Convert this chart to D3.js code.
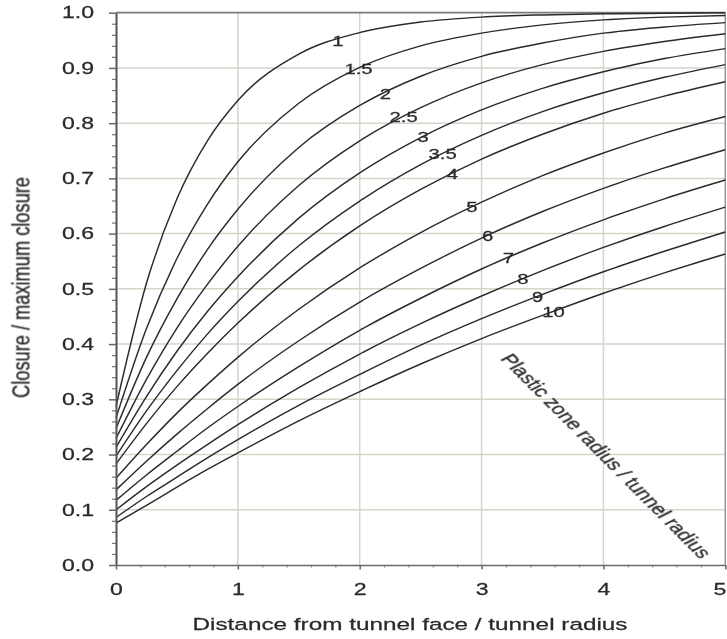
<!DOCTYPE html>
<html>
<head>
<meta charset="utf-8">
<script src="https://cdn.jsdelivr.net/npm/d3@7"></script>
<style>
  html, body { margin: 0; padding: 0; background: #fff; }
  svg { display: block; }
  text { font-family: "Liberation Sans", Arial, sans-serif; fill: #2a2a2a; stroke: #2a2a2a; stroke-width: 0.25px; }
</style>
</head>
<body>
<svg id="chart" width="727" height="639"></svg>
<script>
// Distance from tunnel face / tunnel radius (sample positions)
const distance = [0, 0.25, 0.5, 0.75, 1, 1.5, 2, 2.5, 3, 3.5, 4, 4.5, 5];

// Plastic zone radius / tunnel radius (one curve per ratio)
const ratioLabels = ["1", "1.5", "2", "2.5", "3", "3.5", "4", "5", "6", "7", "8", "9", "10"];

// Closure / maximum closure at each sampled distance
const closure_1   = [0.287, 0.510, 0.663, 0.768, 0.841, 0.925, 0.964, 0.983, 0.992, 0.996, 0.998, 0.999, 1.000];
const closure_1_5 = [0.266, 0.428, 0.555, 0.653, 0.730, 0.836, 0.901, 0.940, 0.963, 0.978, 0.987, 0.992, 0.995];
const closure_2   = [0.247, 0.376, 0.482, 0.571, 0.644, 0.756, 0.832, 0.885, 0.921, 0.945, 0.963, 0.974, 0.982];
const closure_2_5 = [0.229, 0.336, 0.429, 0.508, 0.577, 0.687, 0.768, 0.828, 0.873, 0.906, 0.930, 0.948, 0.962];
const closure_3   = [0.213, 0.305, 0.387, 0.459, 0.522, 0.628, 0.710, 0.774, 0.824, 0.863, 0.893, 0.917, 0.935];
const closure_3_5 = [0.197, 0.279, 0.352, 0.418, 0.477, 0.578, 0.659, 0.725, 0.778, 0.821, 0.855, 0.883, 0.906];
const closure_4   = [0.183, 0.256, 0.323, 0.383, 0.438, 0.534, 0.614, 0.680, 0.735, 0.780, 0.818, 0.849, 0.875];
const closure_5   = [0.157, 0.218, 0.275, 0.327, 0.376, 0.463, 0.538, 0.602, 0.657, 0.705, 0.746, 0.782, 0.812];
const closure_6   = [0.136, 0.188, 0.237, 0.283, 0.327, 0.406, 0.476, 0.537, 0.592, 0.640, 0.682, 0.719, 0.752];
const closure_7   = [0.117, 0.163, 0.206, 0.248, 0.287, 0.359, 0.425, 0.483, 0.536, 0.583, 0.625, 0.663, 0.697];
const closure_8   = [0.100, 0.142, 0.181, 0.218, 0.254, 0.321, 0.382, 0.437, 0.487, 0.533, 0.575, 0.613, 0.648];
const closure_9   = [0.086, 0.124, 0.159, 0.194, 0.227, 0.289, 0.345, 0.398, 0.446, 0.490, 0.531, 0.568, 0.603];
const closure_10  = [0.076, 0.108, 0.141, 0.173, 0.203, 0.261, 0.314, 0.364, 0.410, 0.452, 0.492, 0.529, 0.563];

// Distance along each curve where its ratio label sits
const labelDistance = [1.82, 1.99, 2.21, 2.36, 2.52, 2.68, 2.76, 2.92, 3.05, 3.22, 3.34, 3.46, 3.59];

// Axis tick values
const xTicks = [0, 1, 2, 3, 4, 5];
const yTicks = [0, 0.1, 0.2, 0.3, 0.4, 0.5, 0.6, 0.7, 0.8, 0.9, 1.0];

const series = [closure_1, closure_1_5, closure_2, closure_2_5, closure_3, closure_3_5,
                closure_4, closure_5, closure_6, closure_7, closure_8, closure_9, closure_10];

// ---- layout ----
const plot = { left: 116, right: 725.3, top: 12.7, bottom: 565 };
const SX = 1.4; // horizontal text stretch

const svg = d3.select("#chart");
const defs = svg.append("defs");
defs.append("filter").attr("id", "soft")
  .attr("x", "-5%").attr("y", "-5%").attr("width", "110%").attr("height", "110%")
  .append("feGaussianBlur").attr("stdDeviation", 0.45);

const root = svg.append("g").attr("filter", "url(#soft)");

const x = d3.scaleLinear().domain([0, 5]).range([plot.left, plot.right]);
const y = d3.scaleLinear().domain([0, 1]).range([plot.bottom, plot.top]);

// grid
const grid = root.append("g").attr("stroke", "#d5d5ca").attr("stroke-width", 1.5);
grid.selectAll("line.h").data(yTicks.filter(v => v > 0 && v < 1)).join("line")
  .attr("x1", plot.left).attr("x2", plot.right)
  .attr("y1", d => y(d)).attr("y2", d => y(d));
grid.selectAll("line.v").data(xTicks.filter(v => v > 0 && v < 5)).join("line")
  .attr("y1", plot.top).attr("y2", plot.bottom)
  .attr("x1", d => x(d)).attr("x2", d => x(d));

// frame on top and right
root.append("line").attr("x1", plot.left).attr("x2", plot.right)
  .attr("y1", y(1)).attr("y2", y(1)).attr("stroke", "#7a7a7a").attr("stroke-width", 1.7);
root.append("line").attr("x1", x(5)).attr("x2", x(5))
  .attr("y1", plot.top).attr("y2", plot.bottom).attr("stroke", "#959595").attr("stroke-width", 1.5);

// curves
const line = d3.line()
  .x((d, i) => x(distance[i]))
  .y(d => y(d))
  .curve(d3.curveMonotoneX);

root.append("g").selectAll("path").data(series).join("path")
  .attr("d", line)
  .attr("fill", "none")
  .attr("stroke", "#2a2a2a")
  .attr("stroke-width", 1.45);

// ratio labels placed on their curves
root.append("g").selectAll("text").data(series).join("text")
  .attr("transform", (d, i) => {
    const along = d3.scaleLinear().domain(distance).range(d);
    const px = x(labelDistance[i]);
    const py = y(along(labelDistance[i]));
    return `translate(${px},${py + 0.5}) scale(${SX},1)`;
  })
  .attr("text-anchor", "middle")
  .attr("dominant-baseline", "central")
  .attr("font-size", 14.5)
  .text((d, i) => ratioLabels[i]);

// y axis: minor ticks, then major ticks with labels
const yMinor = d3.range(0, 1.0001, 0.02).filter(v => Math.abs(Math.round(v * 10) - v * 10) > 1e-6);
const yMinorAxis = root.append("g").attr("transform", `translate(${plot.left},0)`)
  .call(d3.axisLeft(y).tickValues(yMinor).tickSize(4).tickSizeOuter(0).tickFormat(""));
yMinorAxis.select(".domain").remove();
yMinorAxis.selectAll("line").attr("stroke", "#777").attr("stroke-width", 1.2);

const yAxis = root.append("g").attr("transform", `translate(${plot.left},0)`)
  .call(d3.axisLeft(y).tickValues(yTicks).tickSize(7).tickSizeOuter(0)
    .tickPadding(8.7).tickFormat(d3.format(".1f")));
yAxis.select(".domain").attr("stroke", "#555").attr("stroke-width", 2);
yAxis.selectAll(".tick line").attr("stroke", "#666").attr("stroke-width", 1.5);
yAxis.selectAll(".tick text")
  .attr("font-size", 16.5).attr("font-family", "Liberation Sans, Arial, sans-serif")
  .attr("fill", "#2a2a2a").attr("transform", `scale(${SX},1)`);

// x axis
const xMinor = d3.range(0, 5.0001, 0.2).filter(v => Math.abs(Math.round(v) - v) > 1e-6);
const xMinorAxis = root.append("g").attr("transform", `translate(0,${plot.bottom})`)
  .call(d3.axisBottom(x).tickValues(xMinor).tickSize(2.5).tickSizeOuter(0).tickFormat(""));
xMinorAxis.select(".domain").remove();
xMinorAxis.selectAll("line").attr("stroke", "#888").attr("stroke-width", 1.2);

const xAxis = root.append("g").attr("transform", `translate(0,${plot.bottom})`)
  .call(d3.axisBottom(x).tickValues(xTicks).tickSize(4.5).tickSizeOuter(0)
    .tickPadding(13.5).tickFormat(d3.format("d")));
xAxis.select(".domain").attr("stroke", "#6a6a6a").attr("stroke-width", 1.6);
xAxis.selectAll(".tick line").attr("stroke", "#666").attr("stroke-width", 1.5);
xAxis.selectAll(".tick text")
  .attr("font-size", 16.5).attr("font-family", "Liberation Sans, Arial, sans-serif")
  .attr("fill", "#2a2a2a")
  // keep the last label inside the right edge
  .attr("transform", d => d === 5 ? `translate(-6,0) scale(${SX},1)` : `scale(${SX},1)`);

// axis titles
root.append("text")
  .attr("transform", `translate(410,630) scale(1.43,1)`)
  .attr("text-anchor", "middle")
  .attr("font-size", 17)
  .text("Distance from tunnel face / tunnel radius");

root.append("text")
  .attr("transform", `translate(29,287.5) scale(${SX},1) rotate(-90)`)
  .attr("text-anchor", "middle")
  .attr("font-size", 17)
  .attr("textLength", 221)
  .attr("lengthAdjust", "spacingAndGlyphs")
  .text("Closure / maximum closure");

// curve family title along the diagonal
root.append("text")
  .attr("transform", `translate(606,456) scale(${SX},1) rotate(54.5)`)
  .attr("text-anchor", "middle")
  .attr("dominant-baseline", "central")
  .attr("font-size", 16.5)
  .text("Plastic zone radius / tunnel radius");
</script>
</body>
</html>
